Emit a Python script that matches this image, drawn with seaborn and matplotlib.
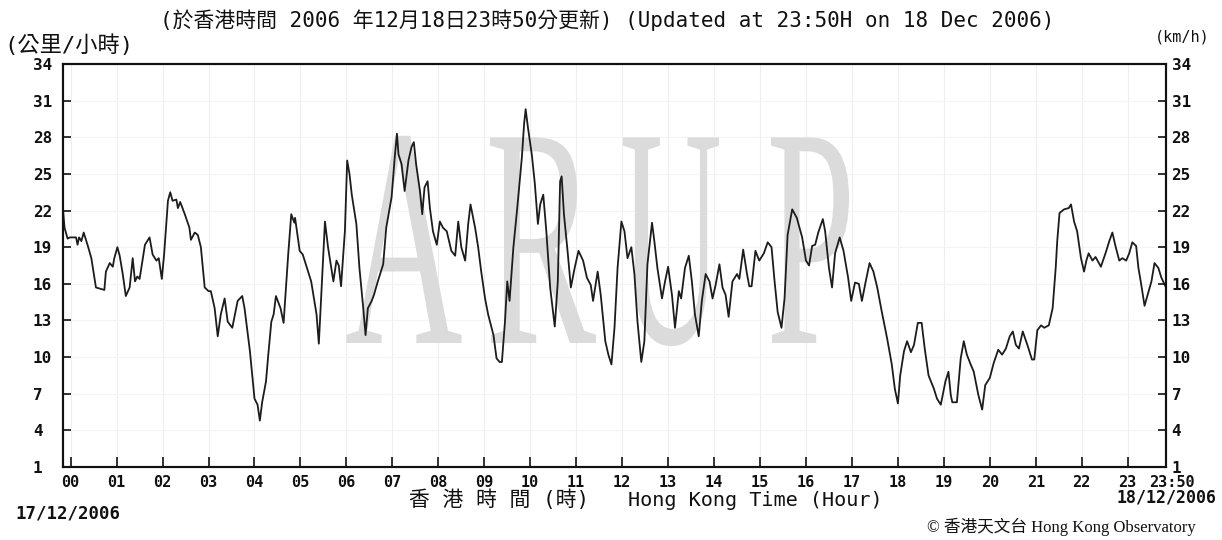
import numpy as np
import pandas as pd
import matplotlib
matplotlib.use("Agg")
import matplotlib.pyplot as plt
import seaborn as sns
from matplotlib.patheffects import AbstractPathEffect
from matplotlib.transforms import IdentityTransform
from matplotlib.path import Path

# ---------------- data (minutes after 00:00 HKT, wind speed km/h) ----------------
minutes = [-10, -8, -4, -1, 7, 9, 11, 14, 17, 22, 27, 33, 44, 46, 51, 55, 57, 61, 64, 68,
           72, 77, 81, 84, 87, 90, 97, 103, 107, 112, 115, 119, 122, 127, 130, 133, 138, 140, 143, 149,
           155, 157, 162, 166, 170, 175, 180, 183, 188, 192, 196, 201, 205, 211, 218, 224, 227, 234, 240, 244,
           247, 250, 255, 258, 262, 265, 268, 274, 278, 284, 288, 292, 293, 299, 303, 310, 314, 321, 324, 329,
           332, 336, 340, 343, 347, 350, 353, 358, 361, 364, 367, 373, 377, 382, 385, 388, 393, 396, 401, 408,
           412, 419, 423, 426, 428, 432, 436, 441, 445, 448, 451, 456, 459, 462, 466, 469, 473, 478, 482, 486,
           491, 497, 502, 506, 510, 515, 519, 522, 528, 532, 536, 541, 545, 552, 556, 560, 563, 567, 570, 573,
           578, 583, 589, 592, 594, 597, 602, 606, 610, 613, 617, 621, 626, 632, 636, 639, 641, 644, 649, 653,
           658, 663, 669, 674, 679, 682, 688, 692, 698, 702, 706, 710, 714, 719, 723, 727, 732, 736, 740, 745,
           749, 753, 759, 762, 766, 772, 776, 780, 785, 789, 794, 797, 802, 807, 811, 815, 820, 824, 829, 834,
           838, 842, 847, 851, 855, 859, 864, 870, 873, 878, 883, 886, 889, 894, 899, 905, 910, 915, 919, 923,
           928, 932, 936, 942, 948, 955, 960, 964, 968, 972, 976, 982, 985, 990, 994, 998, 1004, 1009, 1015, 1019,
           1024, 1029, 1033, 1038, 1043, 1048, 1053, 1059, 1066, 1072, 1076, 1080, 1083, 1088, 1092, 1097, 1101, 1106, 1111, 1115,
           1120, 1127, 1131, 1136, 1142, 1146, 1149, 1151, 1157, 1162, 1166, 1170, 1175, 1179, 1185, 1190, 1194, 1200, 1205, 1211,
           1216, 1221, 1226, 1230, 1234, 1238, 1243, 1249, 1255, 1258, 1262, 1267, 1271, 1277, 1282, 1286, 1288, 1291, 1297, 1303,
           1306, 1310, 1314, 1319, 1323, 1326, 1329, 1334, 1338, 1345, 1351, 1356, 1360, 1364, 1369, 1373, 1378, 1382, 1386, 1391,
           1394, 1397, 1402, 1406, 1411, 1415, 1420, 1424, 1430]
speed = [22.1, 20.6, 19.7, 19.8, 19.8, 19.2, 19.8, 19.5, 20.2, 19.2, 18.1, 15.7, 15.5, 17.0, 17.7, 17.4, 18.1, 19.0, 18.3, 16.8,
         15.0, 15.7, 18.1, 16.2, 16.6, 16.4, 19.2, 19.8, 18.4, 17.9, 18.1, 16.4, 18.4, 22.8, 23.5, 22.8, 22.9, 22.2, 22.7, 21.7,
         20.6, 19.6, 20.2, 20.0, 19.0, 15.7, 15.4, 15.4, 14.0, 11.7, 13.5, 14.8, 12.9, 12.4, 14.6, 15.0, 14.0, 10.5, 6.6, 6.1,
         4.8, 6.3, 8.0, 10.2, 12.9, 13.5, 15.0, 14.0, 12.8, 18.4, 21.7, 21.0, 21.4, 18.7, 18.4, 17.0, 16.2, 13.5, 11.1, 17.3,
         21.1, 19.0, 17.4, 16.2, 17.9, 17.5, 15.8, 20.3, 26.1, 25.0, 23.3, 20.9, 17.3, 14.0, 11.8, 14.0, 14.6, 15.1, 16.2, 17.6,
         20.6, 23.1, 26.3, 28.3, 26.6, 25.8, 23.6, 26.1, 27.2, 27.6, 25.8, 23.6, 21.7, 23.9, 24.4, 22.2, 20.3, 19.2, 21.1, 20.6,
         20.3, 18.7, 18.3, 21.1, 19.0, 17.9, 20.9, 22.5, 20.6, 19.0, 17.0, 14.8, 13.5, 11.8, 9.9, 9.6, 9.6, 12.9, 16.2, 14.6,
         19.0, 22.2, 26.3, 29.1, 30.3, 28.8, 26.6, 24.2, 20.9, 22.5, 23.3, 20.3, 15.7, 12.5, 16.2, 24.4, 24.8, 21.7, 18.5, 15.7,
         17.3, 18.7, 17.9, 16.5, 15.9, 14.6, 17.0, 15.1, 11.3, 10.2, 9.4, 12.4, 17.3, 21.1, 20.3, 18.1, 19.0, 16.8, 12.9, 9.6,
         11.3, 17.6, 21.0, 19.5, 17.3, 14.8, 16.2, 17.4, 15.1, 12.4, 15.4, 14.8, 17.3, 18.3, 16.2, 13.5, 11.7, 14.6, 16.8, 16.2,
         14.8, 15.9, 17.6, 15.7, 15.1, 13.3, 16.2, 16.8, 16.4, 18.8, 16.8, 15.8, 15.8, 18.7, 17.9, 18.5, 19.4, 19.0, 16.2, 13.7,
         12.4, 14.8, 20.0, 22.1, 21.4, 19.8, 17.9, 17.5, 19.1, 19.2, 20.2, 21.3, 20.3, 17.3, 15.7, 18.5, 19.8, 18.7, 16.5, 14.6,
         16.1, 16.0, 14.6, 16.2, 17.7, 17.0, 15.7, 13.7, 11.5, 9.4, 7.4, 6.2, 8.5, 10.5, 11.3, 10.4, 11.0, 12.8, 12.8, 10.7,
         8.5, 7.4, 6.6, 6.1, 8.0, 8.8, 6.9, 6.3, 6.3, 9.9, 11.3, 10.2, 9.4, 8.8, 6.9, 5.7, 7.7, 8.3, 9.5, 10.6,
         10.2, 10.7, 11.7, 12.1, 11.0, 10.7, 12.1, 11.0, 9.8, 9.8, 12.2, 12.6, 12.4, 12.6, 14.0, 17.3, 19.5, 21.8, 22.1, 22.2,
         22.5, 21.1, 20.3, 18.1, 17.0, 17.9, 18.5, 17.9, 18.2, 17.4, 18.5, 19.5, 20.2, 19.1, 17.9, 18.1, 17.9, 18.5, 19.4, 19.1,
         17.3, 16.2, 14.2, 15.1, 16.2, 17.7, 17.3, 16.5, 15.7]

hour_ticks = [h * 60 for h in range(24)]
hour_labels = [f"{h:02d}" for h in range(24)]
end_tick = 1430
end_label = "23:50"
start_minute = -10
y_ticks = [1, 4, 7, 10, 13, 16, 19, 22, 25, 28, 31, 34]

title_text = "(於香港時間 2006 年12月18日23時50分更新) (Updated at 23:50H on 18 Dec 2006)"
left_unit = "(公里/小時)"
right_unit = "(km/h)"
xlabel_zh = "香 港 時 間 (時)"
xlabel_en = "Hong Kong Time (Hour)"
start_date = "17/12/2006"
end_date = "18/12/2006"
credit = "© 香港天文台 Hong Kong Observatory"
watermark = "ARUP"

# ---------------- style ----------------
sns.set_theme(style="white")
MONO_CJK = ["DejaVu Sans Mono", "Noto Sans CJK TC"]
plt.rcParams["font.family"] = MONO_CJK

W, H = 1222, 540
fig = plt.figure(figsize=(W / 100, H / 100), dpi=100)
fig.patch.set_facecolor("white")


def fx(px):
    return px / W


def fy(py):
    return 1 - py / H


AX_L, AX_R, AX_T, AX_B = 63, 1166, 64, 467
ax = fig.add_axes([fx(AX_L), fy(AX_B), (AX_R - AX_L) / W, (AX_B - AX_T) / H])
ax.set_facecolor("white")


class GlyphPlace(AbstractPathEffect):
    """Squeeze each glyph of a text horizontally and set it at a given centre.
    The artist stays a real Text; only its drawn outline is reshaped."""

    def __init__(self, centers_px, squeeze, advances):
        super().__init__()
        self.centers = centers_px
        self.squeeze = squeeze
        cum = np.cumsum(advances)
        self.frac = cum[:-1] / cum[-1]

    def draw_path(self, renderer, gc, tpath, affine, rgbFace=None):
        codes = tpath.codes
        verts = affine.transform(tpath.vertices)
        if codes is None:
            renderer.draw_path(gc, tpath, affine, rgbFace)
            return
        real = codes != Path.CLOSEPOLY
        x0 = verts[real, 0].min()
        x1 = verts[real, 0].max()
        bounds = x0 + (x1 - x0) * self.frac
        starts = np.flatnonzero(codes == Path.MOVETO)
        ends = np.r_[starts[1:], len(codes)]
        glyph_of = np.zeros(len(codes), dtype=int)
        for s, e in zip(starts, ends):
            m = real[s:e]
            xs = verts[s:e, 0][m]
            mid = 0.5 * (xs.min() + xs.max())
            glyph_of[s:e] = np.searchsorted(bounds, mid)
        new = verts.copy()
        for g in range(len(self.centers)):
            sel = (glyph_of == g)
            selr = sel & real
            if not selr.any():
                continue
            c = 0.5 * (verts[selr, 0].min() + verts[selr, 0].max())
            new[sel, 0] = self.centers[g] + (verts[sel, 0] - c) * self.squeeze[g]
        renderer.draw_path(gc, Path(new, codes), IdentityTransform(), rgbFace)


# watermark (one real text, each glyph narrowed like the scanned logo)
ax.text(0.487, (AX_B - 343) / (AX_B - AX_T), watermark, transform=ax.transAxes,
        ha="center", va="baseline", fontsize=226, family="Liberation Serif",
        color="#dbdbdb", zorder=1,
        path_effects=[GlyphPlace([404, 543, 671, 810], [0.52, 0.53, 0.45, 0.51],
                                 [0.722, 0.667, 0.722, 0.556])])

df = pd.DataFrame({"minute": minutes, "speed": speed})
sns.lineplot(data=df, x="minute", y="speed", ax=ax, color="#1c1c1c",
             linewidth=1.3, estimator=None, zorder=3)

ax.set_xlim(start_minute, end_tick)
ax.set_ylim(y_ticks[0], y_ticks[-1])
ax.set_xlabel("")
ax.set_ylabel("")

ax.set_xticks(hour_ticks)
ax.set_xticklabels(hour_labels)
ax.set_yticks(y_ticks)
ax.set_yticklabels([str(v) for v in y_ticks])

ax.grid(True, axis="x", color="#eeeeee", linewidth=0.8, zorder=0)
ax.grid(True, axis="y", color="#f4f4f4", linewidth=0.8, zorder=0)

ax.tick_params(axis="x", direction="in", length=7, width=1.2, pad=6,
               labelsize=11, colors="#111111", bottom=True)
ax.tick_params(axis="y", direction="in", length=6, width=1.2, pad=21.6,
               labelsize=11.5, colors="#111111", left=True)
for lab in ax.get_xticklabels() + ax.get_yticklabels():
    lab.set_fontweight("bold")
    lab.set_family("DejaVu Sans Mono")
for lab in ax.get_yticklabels():
    lab.set_horizontalalignment("left")

# end-of-record label at the right edge of the time axis
ax.annotate(end_label, xy=(end_tick, 0), xycoords=("data", "axes fraction"),
            xytext=(4, -6), textcoords="offset points", ha="center", va="top",
            fontsize=11, fontweight="bold", family="DejaVu Sans Mono", color="#111111")

ax2 = ax.twinx()
ax2.set_ylim(y_ticks[0], y_ticks[-1])
ax2.set_yticks(y_ticks)
ax2.set_yticklabels([str(v) for v in y_ticks])
ax2.tick_params(axis="y", direction="in", length=6, width=1.2, pad=4,
                labelsize=11.5, colors="#111111", right=True)
for lab in ax2.get_yticklabels():
    lab.set_fontweight("bold")
    lab.set_family("DejaVu Sans Mono")
ax2.grid(False)

for a in (ax, ax2):
    for s in a.spines.values():
        s.set_color("#111111")
        s.set_linewidth(1.5)

# ---------------- texts ----------------
fig.text(fx(160), fy(20), title_text, ha="left", va="center", fontsize=15,
         family=MONO_CJK, color="#111111")
fig.text(fx(4), fy(45), left_unit, ha="left", va="center", fontsize=16,
         family=MONO_CJK, color="#111111")
fig.text(fx(1182), fy(37), right_unit, ha="center", va="center", fontsize=11,
         family=MONO_CJK, color="#111111")
fig.text(fx(409), fy(500), xlabel_zh, ha="left", va="center", fontsize=15,
         family=MONO_CJK, color="#111111")
fig.text(fx(628), fy(500), xlabel_en, ha="left", va="center", fontsize=14.5,
         family=MONO_CJK, color="#111111")
fig.text(fx(15), fy(513), start_date, ha="left", va="center", fontsize=12.5,
         family="DejaVu Sans Mono", fontweight="bold", color="#111111")
fig.text(fx(1217), fy(498), end_date, ha="right", va="center", fontsize=12,
         family="DejaVu Sans Mono", fontweight="bold", color="#111111")
fig.text(fx(927), fy(527), credit, ha="left", va="center", fontsize=12,
         family=["Liberation Serif", "Noto Sans CJK TC"], color="#111111")

fig.savefig("out.png", dpi=100, facecolor="white")
